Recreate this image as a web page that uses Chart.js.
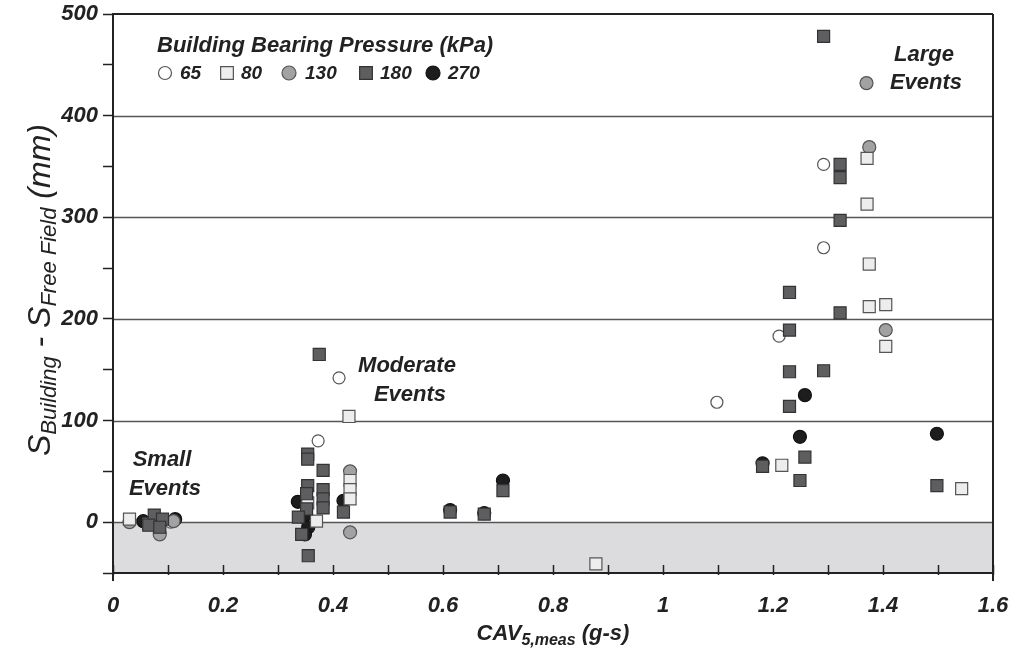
<!DOCTYPE html>
<html>
<head>
<meta charset="utf-8">
<script src="https://cdn.jsdelivr.net/npm/chart.js@4/dist/chart.umd.min.js"></script>
<style>
  html, body { margin: 0; padding: 0; background: #fff; }
  #wrap { width: 1012px; height: 649px; }
</style>
</head>
<body>
<div id="wrap"><canvas id="settleChart" width="1012" height="649"></canvas></div>
<script>
// valori (CAV in g-s, cedimento differenziale in mm)
const kpa65X = [0.105, 0.373, 0.411, 1.098, 1.211, 1.292, 1.292];
const kpa65Y = [0, 80, 142, 118, 183, 270, 352];

const kpa80X = [0.03, 0.065, 0.085, 0.37, 0.354, 0.431, 0.431, 0.431, 0.429, 0.878, 1.216, 1.371, 1.371, 1.375, 1.375, 1.405, 1.405, 1.543];
const kpa80Y = [3, -2, 2, 1, 19, 41, 32, 23, 104, -41, 56, 358, 313, 254, 212, 214, 173, 33];

const kpa130X = [0.03, 0.085, 0.11, 0.431, 0.431, 1.37, 1.375, 1.405];
const kpa130Y = [0, -12, 1, 50, -10, 432, 369, 189];

const kpa180X = [0.075, 0.065, 0.09, 0.085,
  0.375, 0.354, 0.354, 0.382, 0.382, 0.382, 0.382, 0.354, 0.352, 0.352, 0.337, 0.343, 0.355, 0.419,
  0.613, 0.675, 0.709,
  1.292, 1.322, 1.322, 1.322, 1.230, 1.322, 1.230, 1.230, 1.292, 1.230, 1.258, 1.181, 1.249, 1.498];
const kpa180Y = [7, -3, 3, -5,
  165, 67, 62, 51, 32, 23, 14, 36, 28, 13, 5, -12, -33, 10,
  10, 8, 31,
  478, 352, 339, 297, 226, 206, 189, 148, 149, 114, 64, 55, 41, 36];

const kpa270X = [0.055, 0.088, 0.113, 0.336, 0.346, 0.355, 0.349, 0.419, 0.613, 0.675, 0.709, 1.258, 1.249, 1.498, 1.181];
const kpa270Y = [1, 1, 3, 20, 5, -5, -12, 21, 12, 9, 41, 125, 84, 87, 58];

const legendLabels = ['65', '80', '130', '180', '270'];
const xMin = 0, xMax = 1.6, yMin = -50, yMax = 500;

const FONT = "'Liberation Sans', Arial, sans-serif";

function toPoints(xs, ys) {
    return xs.map((x, i) => ({ x: x, y: ys[i] }));
}

const styles = [
    { pointStyle: 'circle', pointRadius: 6, backgroundColor: '#ffffff', borderColor: '#555555' },
    { pointStyle: 'rect', pointRadius: 8.5, backgroundColor: '#ededed', borderColor: '#555555' },
    { pointStyle: 'circle', pointRadius: 6.5, backgroundColor: '#a2a2a4', borderColor: '#555555' },
    { pointStyle: 'rect', pointRadius: 8.5, backgroundColor: '#5e5e60', borderColor: '#333333' },
    { pointStyle: 'circle', pointRadius: 6.5, backgroundColor: '#1d1d1f', borderColor: '#111111' }
];

const seriesData = [
    toPoints(kpa65X, kpa65Y),
    toPoints(kpa80X, kpa80Y),
    toPoints(kpa130X, kpa130Y),
    toPoints(kpa180X, kpa180Y),
    toPoints(kpa270X, kpa270Y)
];

// ordine di disegno: quadrati scuri sotto, cerchi neri sopra
const drawOrder = [3, 1, 2, 0, 4];

const datasets = drawOrder.map(i => ({
    label: legendLabels[i],
    data: seriesData[i],
    pointStyle: styles[i].pointStyle,
    pointRadius: styles[i].pointRadius,
    pointHoverRadius: styles[i].pointRadius,
    backgroundColor: styles[i].backgroundColor,
    borderColor: styles[i].borderColor,
    borderWidth: 1.2,
    showLine: false
}));

// testo con pedici: parts = [[testo, isSub], ...]
function drawSubText(ctx, parts, x, y, bigFont, smallFont, align, subShift) {
    let total = 0;
    parts.forEach(p => {
        ctx.font = p[1] ? smallFont : bigFont;
        total += ctx.measureText(p[0]).width;
    });
    let cx = align === 'center' ? x - total / 2 : x;
    ctx.textAlign = 'left';
    ctx.textBaseline = 'alphabetic';
    parts.forEach(p => {
        ctx.font = p[1] ? smallFont : bigFont;
        ctx.fillText(p[0], cx, p[1] ? y + subShift : y);
        cx += ctx.measureText(p[0]).width;
    });
}

const decorPlugin = {
    id: 'decor',
    beforeDatasetsDraw(chart) {
        const ctx = chart.ctx;
        const ys = chart.scales.y;
        const area = chart.chartArea;
        ctx.save();
        // fascia grigia sotto lo zero
        const y0 = ys.getPixelForValue(0);
        const yb = ys.getPixelForValue(yMin);
        ctx.fillStyle = '#dcdcde';
        ctx.fillRect(area.left, y0, area.right - area.left, yb - y0);
        // linee orizzontali
        ctx.strokeStyle = '#555555';
        ctx.lineWidth = 1.3;
        [0, 100, 200, 300, 400].forEach(v => {
            const py = Math.round(ys.getPixelForValue(v)) + 0.5;
            ctx.beginPath();
            ctx.moveTo(area.left, py);
            ctx.lineTo(area.right, py);
            ctx.stroke();
        });
        ctx.restore();
    },
    afterDraw(chart) {
        const ctx = chart.ctx;
        const xs = chart.scales.x;
        const area = chart.chartArea;
        ctx.save();
        // cornice
        ctx.strokeStyle = '#222222';
        ctx.lineWidth = 2;
        ctx.beginPath();
        ctx.moveTo(area.left, area.top);
        ctx.lineTo(area.right, area.top);
        ctx.moveTo(area.right, area.top);
        ctx.lineTo(area.right, area.bottom + 8);
        ctx.moveTo(area.left, area.top - 1);
        ctx.lineTo(area.left, area.bottom + 8);
        ctx.moveTo(area.left, area.bottom);
        ctx.lineTo(area.right, area.bottom);
        ctx.stroke();
        // tacche asse x (verso l'interno)
        ctx.lineWidth = 1.5;
        xs.ticks.forEach(t => {
            const px = Math.round(xs.getPixelForValue(t.value)) + 0.5;
            ctx.beginPath();
            ctx.moveTo(px, area.bottom - 8);
            ctx.lineTo(px, area.bottom + 2);
            ctx.stroke();
        });

        ctx.fillStyle = '#222222';
        // titolo legenda
        ctx.font = "italic bold 22px " + FONT;
        ctx.textAlign = 'left';
        ctx.textBaseline = 'alphabetic';
        ctx.fillText('Building Bearing Pressure (kPa)', 157, 52);

        // voci legenda
        const legendX = [165, 227, 289, 366, 433];
        const legendTextX = [180, 241, 305, 380, 448];
        legendLabels.forEach((lab, i) => {
            const st = styles[i];
            ctx.fillStyle = st.backgroundColor;
            ctx.strokeStyle = st.borderColor;
            ctx.lineWidth = 1.2;
            Chart.helpers.drawPoint(ctx, {
                pointStyle: st.pointStyle,
                radius: st.pointRadius + 0.5,
                borderWidth: 1.2
            }, legendX[i], 73);
            ctx.fillStyle = '#222222';
            ctx.font = "italic bold 19px " + FONT;
            ctx.textBaseline = 'middle';
            ctx.fillText(lab, legendTextX[i], 74);
        });

        // etichette gruppi
        ctx.font = "italic bold 22px " + FONT;
        ctx.textAlign = 'center';
        ctx.textBaseline = 'middle';
        ctx.fillStyle = '#222222';
        ctx.fillText('Small', 162, 460);
        ctx.fillText('Events', 165, 489);
        ctx.fillText('Moderate', 407, 366);
        ctx.fillText('Events', 410, 395);
        ctx.fillText('Large', 924, 55);
        ctx.fillText('Events', 926, 83);

        // titolo asse x
        drawSubText(ctx, [['CAV', false], ['5,meas', true], [' (g-s)', false]],
            553, 640, "italic bold 22px " + FONT, "italic bold 16px " + FONT, 'center', 5);

        // titolo asse y (ruotato)
        ctx.translate(42, 290);
        ctx.rotate(-Math.PI / 2);
        drawSubText(ctx, [['S', false], ['Building', true], [' - S', false], ['Free Field', true], [' (mm)', false]],
            0, 8, "italic 32px " + FONT, "italic 22px " + FONT, 'center', 6);
        ctx.restore();
    }
};

const ctx = document.getElementById('settleChart').getContext('2d');
new Chart(ctx, {
    type: 'scatter',
    data: { datasets: datasets },
    options: {
        responsive: false,
        animation: false,
        layout: { padding: { left: 0, right: 19, top: 14, bottom: 0 } },
        plugins: {
            legend: { display: false },
            tooltip: { enabled: false }
        },
        scales: {
            x: {
                type: 'linear',
                min: xMin,
                max: xMax,
                border: { display: false },
                grid: { drawOnChartArea: false, drawTicks: false },
                ticks: {
                    stepSize: 0.1,
                    padding: 20,
                    color: '#222222',
                    font: { family: FONT, size: 22, style: 'italic', weight: 'bold' },
                    maxRotation: 0,
                    autoSkip: false,
                    callback: v => (Math.round(v * 10) % 2 === 0 ? String(Math.round(v * 10) / 10) : '')
                },
                afterFit: s => { s.height = 76; s.paddingLeft = 0; s.paddingRight = 0; }
            },
            y: {
                type: 'linear',
                min: yMin,
                max: yMax,
                border: { display: false },
                grid: { drawOnChartArea: false, drawTicks: true, tickLength: 10, tickColor: '#222222', tickWidth: 1.5 },
                ticks: {
                    stepSize: 50,
                    padding: 5,
                    color: '#222222',
                    font: { family: FONT, size: 22, style: 'italic', weight: 'bold' },
                    autoSkip: false,
                    callback: v => (v % 100 === 0 ? String(v) : '')
                },
                afterFit: s => { s.width = 113; s.paddingTop = 0; s.paddingBottom = 0; }
            }
        }
    },
    plugins: [decorPlugin]
});
</script>
</body>
</html>
